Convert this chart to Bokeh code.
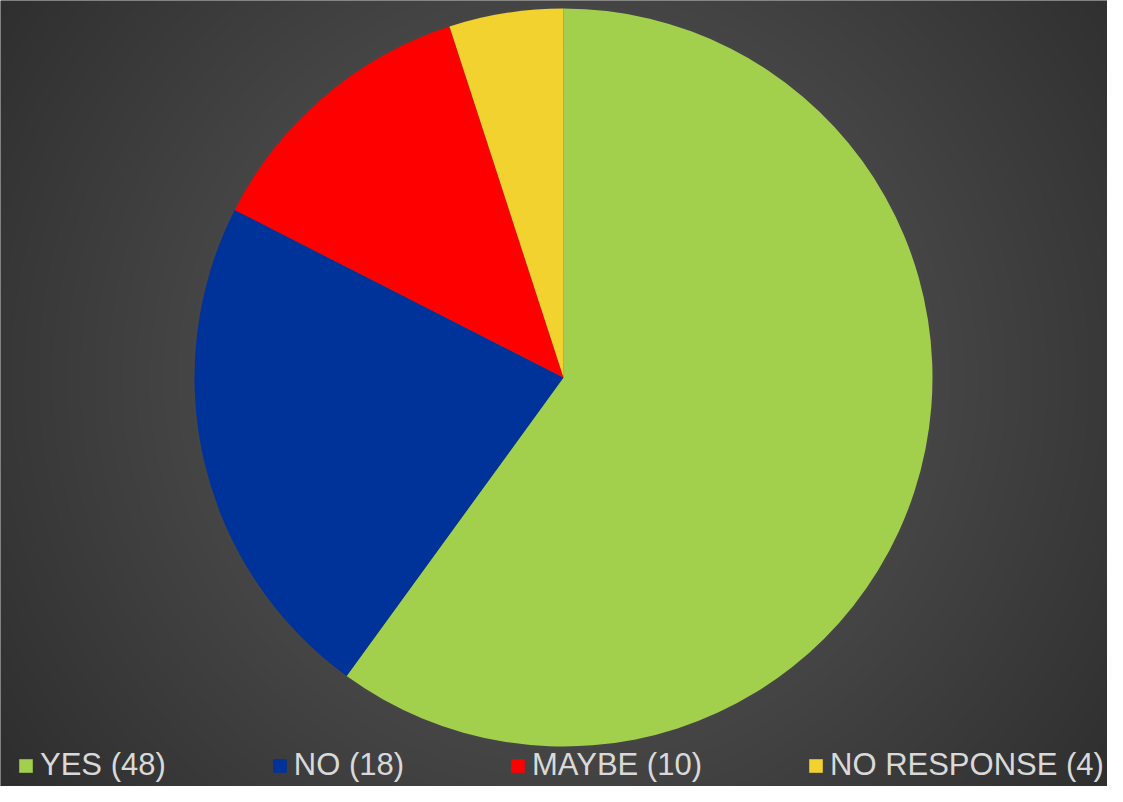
import numpy as np
from math import pi
from bokeh.plotting import figure
from bokeh.models import Legend, LegendItem
from bokeh.embed import file_html
from bokeh.resources import INLINE

# ---- data ----
categories = ["YES", "NO", "MAYBE", "NO RESPONSE"]
counts = [48, 18, 10, 4]
colors = ["#a3d04c", "#003399", "#ff0000", "#f1d22e"]
labels = [f"{c} ({n})" for c, n in zip(categories, counts)]

W, H = 1107, 786
CX, CY, R = 563, H - 377, 369

total = sum(counts)
cum = np.cumsum([0] + counts)
start = [pi / 2 - 2 * pi * cum[i] / total for i in range(len(counts))]
end = [pi / 2 - 2 * pi * cum[i + 1] / total for i in range(len(counts))]

p = figure(width=W, height=H, x_range=(0, W), y_range=(0, H),
           output_backend="svg", toolbar_location=None, min_border=0,
           background_fill_color="#3c3c3c", border_fill_color="#3c3c3c")
p.axis.visible = False
p.grid.visible = False
p.outline_line_color = None

# background radial gradient
yy, xx = np.mgrid[0:H, 0:W]
r = np.sqrt((xx - CX) ** 2 + (yy - CY) ** 2)
v = np.clip(71 - (r - 345) * 0.072, 40, 90).astype(np.uint32)
img = ((255 << 24) | (v << 16) | (v << 8) | v).astype(np.uint32)
p.image_rgba(image=[img], x=0, y=0, dw=W, dh=H)

rs = []
for i in range(len(counts)):
    rr = p.wedge(x=CX, y=CY, radius=R, start_angle=start[i], end_angle=end[i],
                 direction="clock", fill_color=colors[i], line_color=None)
    rs.append(rr)

legend = Legend(items=[LegendItem(label=labels[i], renderers=[rs[i]]) for i in range(len(counts))],
                orientation="horizontal", location=(17, 3),
                label_text_font="Liberation Sans", label_text_font_size="31px",
                label_text_color="#d9d9d9", glyph_width=17, glyph_height=17,
                label_standoff=6, spacing=105, padding=0, margin=0,
                background_fill_alpha=0, border_line_color=None,
                label_height=30)
p.add_layout(legend, "center")

open("out.html", "w").write(file_html(p, INLINE))
